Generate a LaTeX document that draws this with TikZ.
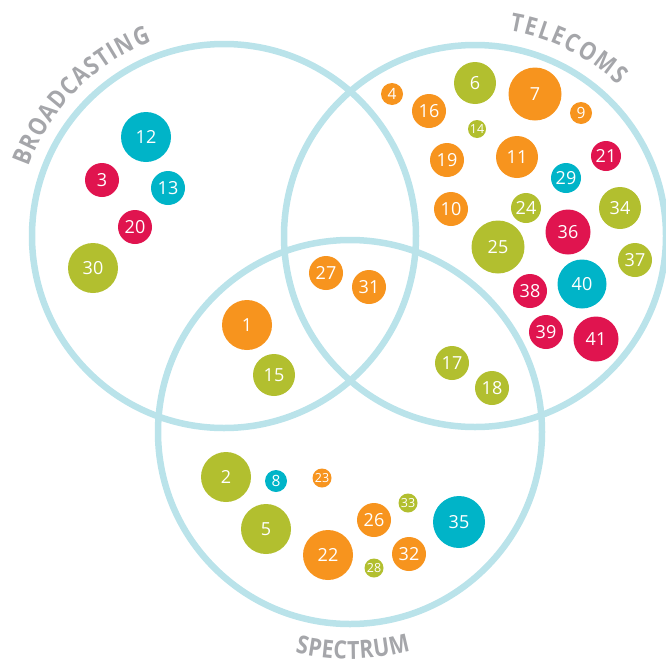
\documentclass[tikz,border=0pt]{standalone}
\usepackage{fontspec}
\setmainfont{Open Sans}
\newfontfamily\labelfont[FakeStretch=0.85]{Open Sans}
\usetikzlibrary{decorations.text}
\definecolor{vennblue}{HTML}{BAE3EA}
\definecolor{labelgray}{HTML}{A5A6AA}
\definecolor{og}{HTML}{F7941E}
\definecolor{gr}{HTML}{B2BF2F}
\definecolor{tl}{HTML}{00B4C8}
\definecolor{rd}{HTML}{E0144F}
\begin{document}
\begin{tikzpicture}[x=1pt,y=1pt,
  venn/.style={draw=vennblue,line width=6.5pt},
  bub/.style={circle,inner sep=0pt,text=white,minimum size=2*#1,font=\fontsize{18}{18}\selectfont},
  smallnum/.style={font=\fontsize{15.5}{15.5}\selectfont},
  tinynum/.style={font=\fontsize{12.5}{12.5}\selectfont},
  O/.style={fill=og},G/.style={fill=gr},T/.style={fill=tl},R/.style={fill=rd},
  arclabel/.style={decorate,decoration={text along path,text align=fit to path,
    text={|\labelfont\bfseries\fontsize{25}{25}\selectfont\color{labelgray}|#1}}}
]
\useasboundingbox (0,0) rectangle (666,-664);
% Venn circles
\coordinate (cb) at (224,-236);
\coordinate (ct) at (475,-236);
\coordinate (cs) at (350,-432);
\draw[venn] (cb) circle[radius=192];
\draw[venn] (ct) circle[radius=191];
\draw[venn] (cs) circle[radius=192];
% Labels
\path[arclabel=BROADCASTING] (cb) ++(160.5:207) arc[start angle=160.5,end angle=110.5,radius=207];
\path[arclabel=TELECOMS] (ct) ++(80.5:208) arc[start angle=80.5,end angle=46.5,radius=208];
\path[arclabel=SPECTRUM] (cs) ++(-104:227) arc[start angle=-104,end angle=-74.5,radius=227];
% Broadcasting
\node[bub=25,T] (b12) at (146,-137) {12};
\node[bub=17,R] (b3) at (102,-180) {3};
\node[bub=17,T] (b13) at (168,-188) {13};
\node[bub=17,R] (b20) at (135,-227) {20};
\node[bub=25,G] (b30) at (93,-268) {30};
% Broadcasting & Telecoms
\node[bub=17,O] (b27) at (326,-273) {27};
\node[bub=17,O] (b31) at (369,-287) {31};
% Broadcasting & Spectrum
\node[bub=25,O] (b1) at (247,-325) {1};
\node[bub=21,G] (b15) at (274,-375) {15};
% Telecoms
\node[bub=11,O,smallnum] (b4) at (392,-94) {4};
\node[bub=17,O] (b16) at (429,-111) {16};
\node[bub=21,G] (b6) at (475,-83) {6};
\node[bub=26.5,O] (b7) at (535,-94) {7};
\node[bub=11,O,smallnum] (b9) at (581,-113) {9};
\node[bub=9,G,tinynum] (b14) at (477,-129) {14};
\node[bub=17,O] (b19) at (447,-160) {19};
\node[bub=21,O] (b11) at (517,-157) {11};
\node[bub=15,R] (b21) at (606,-156) {21};
\node[bub=15,T] (b29) at (566,-178) {29};
\node[bub=17,O] (b10) at (451,-209) {10};
\node[bub=15,G] (b24) at (526,-208) {24};
\node[bub=21,G] (b34) at (620,-208) {34};
\node[bub=22.5,R] (b36) at (568,-232) {36};
\node[bub=26.5,G] (b25) at (498,-247) {25};
\node[bub=17,G] (b37) at (635,-260) {37};
\node[bub=24.5,T] (b40) at (582,-284) {40};
\node[bub=17,R] (b38) at (530,-291) {38};
\node[bub=17,R] (b39) at (546,-332) {39};
\node[bub=22.5,R] (b41) at (596,-339) {41};
% Telecoms & Spectrum
\node[bub=17,G] (b17) at (452,-363) {17};
\node[bub=17,G] (b18) at (492,-388) {18};
% Spectrum
\node[bub=25,G] (b2) at (226,-477) {2};
\node[bub=11,T,smallnum] (b8) at (276,-481) {8};
\node[bub=9.5,O,tinynum] (b23) at (322,-478) {23};
\node[bub=25,G] (b5) at (266,-529) {5};
\node[bub=25,O] (b22) at (328,-555) {22};
\node[bub=17,O] (b26) at (374,-520) {26};
\node[bub=9.5,G,tinynum] (b33) at (408,-503) {33};
\node[bub=26,T] (b35) at (459,-522) {35};
\node[bub=17,O] (b32) at (409,-554) {32};
\node[bub=9.5,G,tinynum] (b28) at (374,-568) {28};
\end{tikzpicture}
\end{document}
